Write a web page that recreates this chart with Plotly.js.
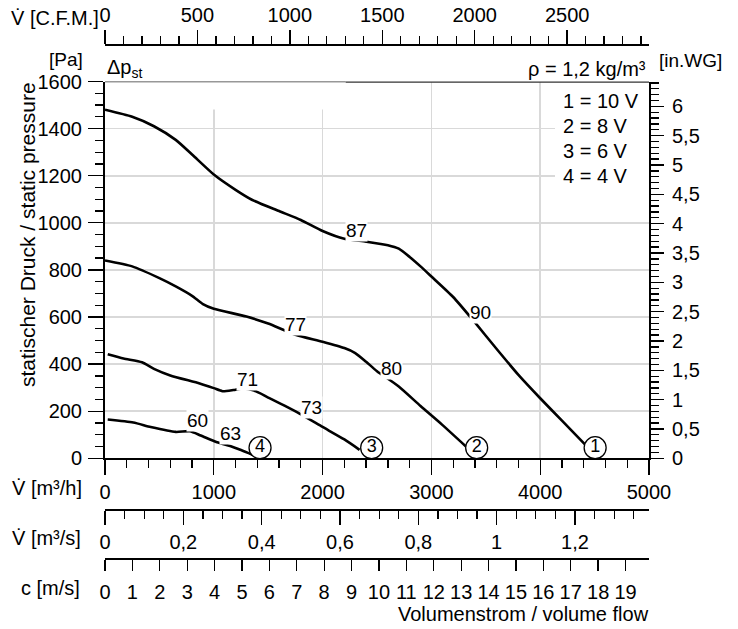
<!DOCTYPE html>
<html><head><meta charset="utf-8">
<script src="https://cdn.plot.ly/plotly-3.0.1.min.js"></script>
<style>html,body{margin:0;padding:0;background:#fff}</style>
</head><body><div id="chart" style="width:738px;height:629px"></div>
<script>
// ---- data (volume flow in m3/h, static pressure in Pa) ----
const curve1X = [0, 250, 450, 650, 800, 1000, 1200, 1350, 1600, 1800, 2000, 2200, 2400, 2600, 2700, 2800, 2900, 3000, 3200, 3400, 3600, 3800, 4000, 4200, 4420];
const curve1Y = [1480, 1450, 1410, 1352, 1290, 1205, 1140, 1098, 1050, 1012, 965, 932, 920, 905, 890, 855, 815, 772, 685, 577, 464, 354, 255, 160, 55];
const curve2X = [0, 250, 500, 650, 800, 900, 1000, 1300, 1500, 1750, 2000, 2200, 2300, 2400, 2500, 2700, 2900, 3100, 3330];
const curve2Y = [840, 815, 765, 730, 690, 655, 635, 602, 572, 525, 495, 468, 447, 410, 370, 305, 222, 142, 45];
const curve3X = [25, 170, 340, 450, 600, 870, 1000, 1080, 1180, 1270, 1370, 1500, 1760, 2000, 2200, 2340];
const curve3Y = [442, 424, 408, 380, 352, 318, 298, 285, 290, 297, 288, 258, 197, 133, 80, 36];
const curve4X = [25, 260, 420, 650, 780, 880, 1030, 1150, 1250, 1360];
const curve4Y = [165, 152, 133, 112, 115, 97, 68, 52, 35, 14];

const endLabels = ['1', '2', '3', '4'];
const endX = [4505, 3416, 2451, 1425];
const endY = [45, 45, 45, 45];

const curveLabelText = ['87', '90', '77', '80', '71', '73', '60', '63'];
const curveLabelX = [2313, 3447, 1755, 2635, 1310, 1900, 850, 1155];
const curveLabelY = [969, 618, 570, 380, 335, 214, 159, 104];

const legendLines = ['1 = 10 V', '2 = 8 V', '3 = 6 V', '4 = 4 V'];
const legendY = [1517, 1411, 1305, 1199];

const xMax = 5000, yMax = 1600;
const PA_PER_INWG = 249.089;
const M3H_PER_CFM = 1.69901;
const M3H_PER_M3S = 3600;
const M3H_PER_MS = 251.8;

// ---- layout helpers ----
const W = 738, H = 629, mL = 105, mR = 89, mT = 45, mB = 70;
const pw = W - mL - mR, ph = H - mT - mB;
const px2x = p => (p - mL) / pw;
const py2y = p => (H - mB - p) / ph;
const FONT = 'Liberation Sans, Arial, sans-serif';
const BLACK = '#000';

function curve(x, y) {
  return {x: x, y: y, type: 'scatter', mode: 'lines', xaxis: 'x', yaxis: 'y',
    line: {color: BLACK, width: 2.6, shape: 'spline', smoothing: 0.6},
    hoverinfo: 'skip', showlegend: false};
}
function dummy(xa, ya) {
  return {x: [0], y: [0], type: 'scatter', mode: 'markers', xaxis: xa, yaxis: ya,
    marker: {opacity: 0}, hoverinfo: 'skip', showlegend: false};
}

const traces = [
  curve(curve1X, curve1Y), curve(curve2X, curve2Y), curve(curve3X, curve3Y), curve(curve4X, curve4Y),
  {x: endX, y: endY, text: endLabels, type: 'scatter', mode: 'markers+text', xaxis: 'x', yaxis: 'y',
   marker: {symbol: 'circle', size: 22, color: '#fff', line: {color: BLACK, width: 1.3}},
   textposition: 'middle center', textfont: {size: 18, color: BLACK, family: FONT},
   hoverinfo: 'skip', showlegend: false, cliponaxis: false},
  dummy('x2', 'y'), dummy('x3', 'y'), dummy('x4', 'y'), dummy('x', 'y2')
];

const tickCommon = {ticks: 'outside', tickcolor: BLACK, tickwidth: 1.3, showline: true, linecolor: BLACK,
  linewidth: 2, zeroline: false, fixedrange: true, tickfont: {size: 20, color: BLACK, family: FONT}};

const annotations = [];
for (let i = 0; i < curveLabelText.length; i++) {
  annotations.push({xref: 'x', yref: 'y', x: curveLabelX[i], y: curveLabelY[i], text: curveLabelText[i],
    showarrow: false, bgcolor: '#fff', borderpad: 0, font: {size: 19, color: BLACK, family: FONT}});
}
for (let i = 0; i < legendLines.length; i++) {
  annotations.push({xref: 'paper', yref: 'y', x: px2x(561), y: legendY[i], xanchor: 'left', yanchor: 'middle',
    text: legendLines[i], showarrow: false, font: {size: 20, color: BLACK, family: FONT}});
}
function lab(text, xp, yp, xanchor, extra) {
  annotations.push(Object.assign({xref: 'paper', yref: 'paper', x: px2x(xp), y: py2y(yp), xanchor: xanchor,
    yanchor: 'middle', text: text, showarrow: false, font: {size: 20, color: BLACK, family: FONT}}, extra || {}));
}
lab('V\u0307 [m³/h]', 84, 488, 'right');
lab('V\u0307 [m³/s]', 83, 538, 'right');
lab('c [m/s]', 82, 588, 'right');
lab('Volumenstrom / volume flow', 651, 614, 'right');
lab('V\u0307 [C.F.M.]', 101, 18, 'right');
lab('[Pa]', 85, 59, 'right', {font: {size: 19, color: BLACK, family: FONT}});
lab('Δp<sub>st</sub>', 105, 69, 'left');
lab('ρ = 1,2 kg/m³', 648, 69, 'right');
lab('[in.WG]', 657, 60, 'left', {font: {size: 19, color: BLACK, family: FONT}});
lab('statischer Druck / static pressure', 27, 235, 'center', {textangle: -90, font: {size: 21, color: BLACK, family: FONT}});

const layout = {
  width: W, height: H, margin: {l: mL, r: mR, t: mT, b: mB, pad: 0},
  paper_bgcolor: '#fff', plot_bgcolor: '#fff', showlegend: false,
  separators: ',.',
  font: {family: FONT, size: 20, color: BLACK},
  xaxis: Object.assign({}, tickCommon, {range: [0, xMax], domain: [0, 1], anchor: 'y', dtick: 1000, tick0: 0, ticklen: 15,
    minor: {dtick: 200, tick0: 0, ticklen: 8, tickwidth: 1.3, tickcolor: BLACK, ticks: 'outside', showgrid: false},
    showgrid: true, gridcolor: '#d9d9d9', gridwidth: 1.6}),
  yaxis: Object.assign({}, tickCommon, {range: [0, yMax], domain: [py2y(458.3), py2y(81.5)], anchor: 'x', dtick: 200, tick0: 0, ticklen: 15,
    minor: {dtick: 50, tick0: 0, ticklen: 8, tickwidth: 1.3, tickcolor: BLACK, ticks: 'outside', showgrid: false},
    showgrid: true, gridcolor: '#d9d9d9', gridwidth: 1.6, ticklabelstandoff: 2}),
  yaxis2: Object.assign({}, tickCommon, {range: [0, yMax / PA_PER_INWG], overlaying: 'y', side: 'right', anchor: 'x',
    dtick: 0.5, tick0: 0, ticklen: 13,
    minor: {dtick: 0.1, tick0: 0, ticklen: 8, tickwidth: 1.3, tickcolor: BLACK, ticks: 'outside', showgrid: false},
    showgrid: false, ticklabelstandoff: 4}),
  xaxis2: Object.assign({}, tickCommon, {range: [0, xMax / M3H_PER_M3S], overlaying: 'x', anchor: 'free', position: py2y(510),
    side: 'bottom', dtick: 0.2, tick0: 0, ticklen: 14,
    minor: {dtick: 0.05, tick0: 0, ticklen: 8, tickwidth: 1.3, tickcolor: BLACK, ticks: 'outside', showgrid: false},
    showgrid: false}),
  xaxis3: Object.assign({}, tickCommon, {range: [0, xMax / M3H_PER_MS], overlaying: 'x', anchor: 'free', position: 0,
    side: 'bottom', dtick: 1, tick0: 0, ticklen: 11, showgrid: false, ticklabelstandoff: 4}),
  xaxis4: Object.assign({}, tickCommon, {range: [0, xMax / M3H_PER_CFM], overlaying: 'x', anchor: 'free', position: 1,
    side: 'top', dtick: 500, tick0: 0, ticklen: 14,
    minor: {dtick: 100, tick0: 0, ticklen: 8, tickwidth: 1.3, tickcolor: BLACK, ticks: 'outside', showgrid: false},
    showgrid: false}),
  shapes: [
    {type: 'rect', xref: 'x', yref: 'y', x0: 0, x1: 2212, y0: 1481, y1: yMax, fillcolor: '#fff', line: {width: 0}, layer: 'between'},
    {type: 'rect', xref: 'x', yref: 'y', x0: 4136, x1: xMax, y0: 1100, y1: yMax, fillcolor: '#fff', line: {width: 0}, layer: 'between'},
    {type: 'line', xref: 'x', yref: 'y', x0: 0, x1: 2212, y0: yMax, y1: yMax, line: {color: '#333', width: 1.3}},
    {type: 'line', xref: 'x', yref: 'y', x0: 2212, x1: xMax, y0: yMax, y1: yMax, line: {color: '#333', width: 2.4}}
  ],
  annotations: annotations
};

Plotly.newPlot('chart', traces, layout, {displayModeBar: false, staticPlot: true});
</script></body></html>
